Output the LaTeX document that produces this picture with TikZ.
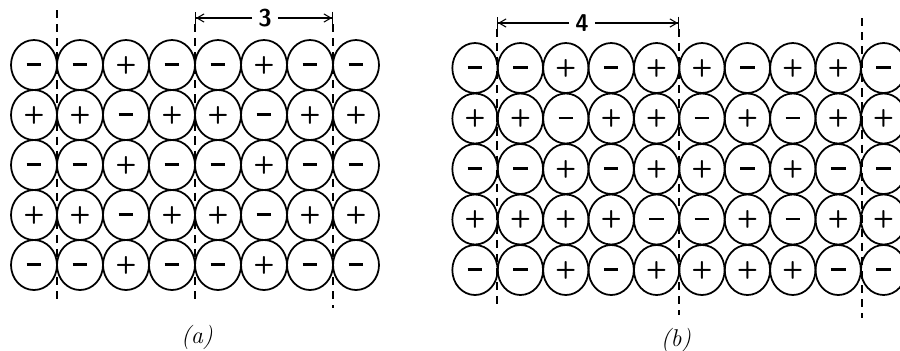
\documentclass[tikz,border=0pt]{standalone}
\usepackage{amsmath}
\usetikzlibrary{arrows.meta,shapes}
\tikzstyle{ion}=[draw, ellipse, line width=1.5pt, minimum width=1.38cm, minimum height=1.5cm, inner sep=0pt, font=\huge\sffamily\bfseries]
\tikzstyle{cell}=[dash pattern=on 7pt off 5pt, line width=0.9pt]
\tikzstyle{period}=[-{Straight Barb[length=6pt,width=7pt]Bar[width=11pt]}, line width=0.9pt]
\newcommand{\sgn}[1]{\vphantom{+}\if#1+{+}\else\rule[0.22em]{0.6em}{0.1em}\fi}

\begin{document}
\begin{tikzpicture}[x=0.03cm, y=-0.03cm]
\useasboundingbox (0,0) rectangle (900,350);
\clip (0,0) rectangle (900,350);
% (a)
\foreach \row [count=\r] in {{-,-,+,-,-,+,-,-},{+,+,-,+,+,-,+,+},{-,-,+,-,-,+,-,-},{+,+,-,+,+,-,+,+},{-,-,+,-,-,+,-,-}}
  \foreach \s [count=\c] in \row
    \node[ion] (a-\r-\c) at ({34+46*(\c-1)},{65+50*(\r-1)}) {\sgn{\s}};
\coordinate (a1t) at (57,10);\coordinate (a1b) at (57,303);
\coordinate (a2t) at (195,24);\coordinate (a2b) at (195,305);
\coordinate (a3t) at (333,24);\coordinate (a3b) at (333,308);
\coordinate (a2m) at (195,18);\coordinate (a3m) at (333,18);
\draw[cell](a1t)--(a1b);\draw[cell](a2t)--(a2b);\draw[cell](a3t)--(a3b);
\node[font=\huge\sffamily\bfseries, inner sep=5pt] (n3) at (265,18) {3};
\draw[period](n3)--(a2m);\draw[period](n3)--(a3m);
\node[font=\huge\itshape] (la) at (197,337) {(a)};
% (b)
\foreach \row [count=\r] in {{-,-,+,-,+,+,-,+,+,-},{+,+,-,+,+,-,+,-,+,+},{-,-,+,-,+,+,-,+,-,-},{+,+,+,+,-,-,+,-,+,+},{-,-,+,-,+,+,+,+,-,-}}
  \foreach \s [count=\c] in \row
    \node[ion, minimum width=1.36cm] (b-\r-\c) at ({475+45.4*(\c-1)},{68+50.5*(\r-1)}) {\sgn{\s}};
\coordinate (b1t) at (497,29);\coordinate (b1b) at (497,310);
\coordinate (b2t) at (679,29);\coordinate (b2b) at (679,315);
\coordinate (b3t) at (862,18);\coordinate (b3b) at (862,318);
\coordinate (b1m) at (497,23);\coordinate (b2m) at (679,23);
\draw[cell](b1t)--(b1b);\draw[cell](b2t)--(b2b);\draw[cell](b3t)--(b3b);
\node[font=\huge\sffamily\bfseries, inner sep=5pt] (n4) at (582,23) {4};
\draw[period](n4)--(b1m);\draw[period](n4)--(b2m);
\node[font=\huge\itshape] (lb) at (676,340) {(b)};
\end{tikzpicture}
\end{document}
